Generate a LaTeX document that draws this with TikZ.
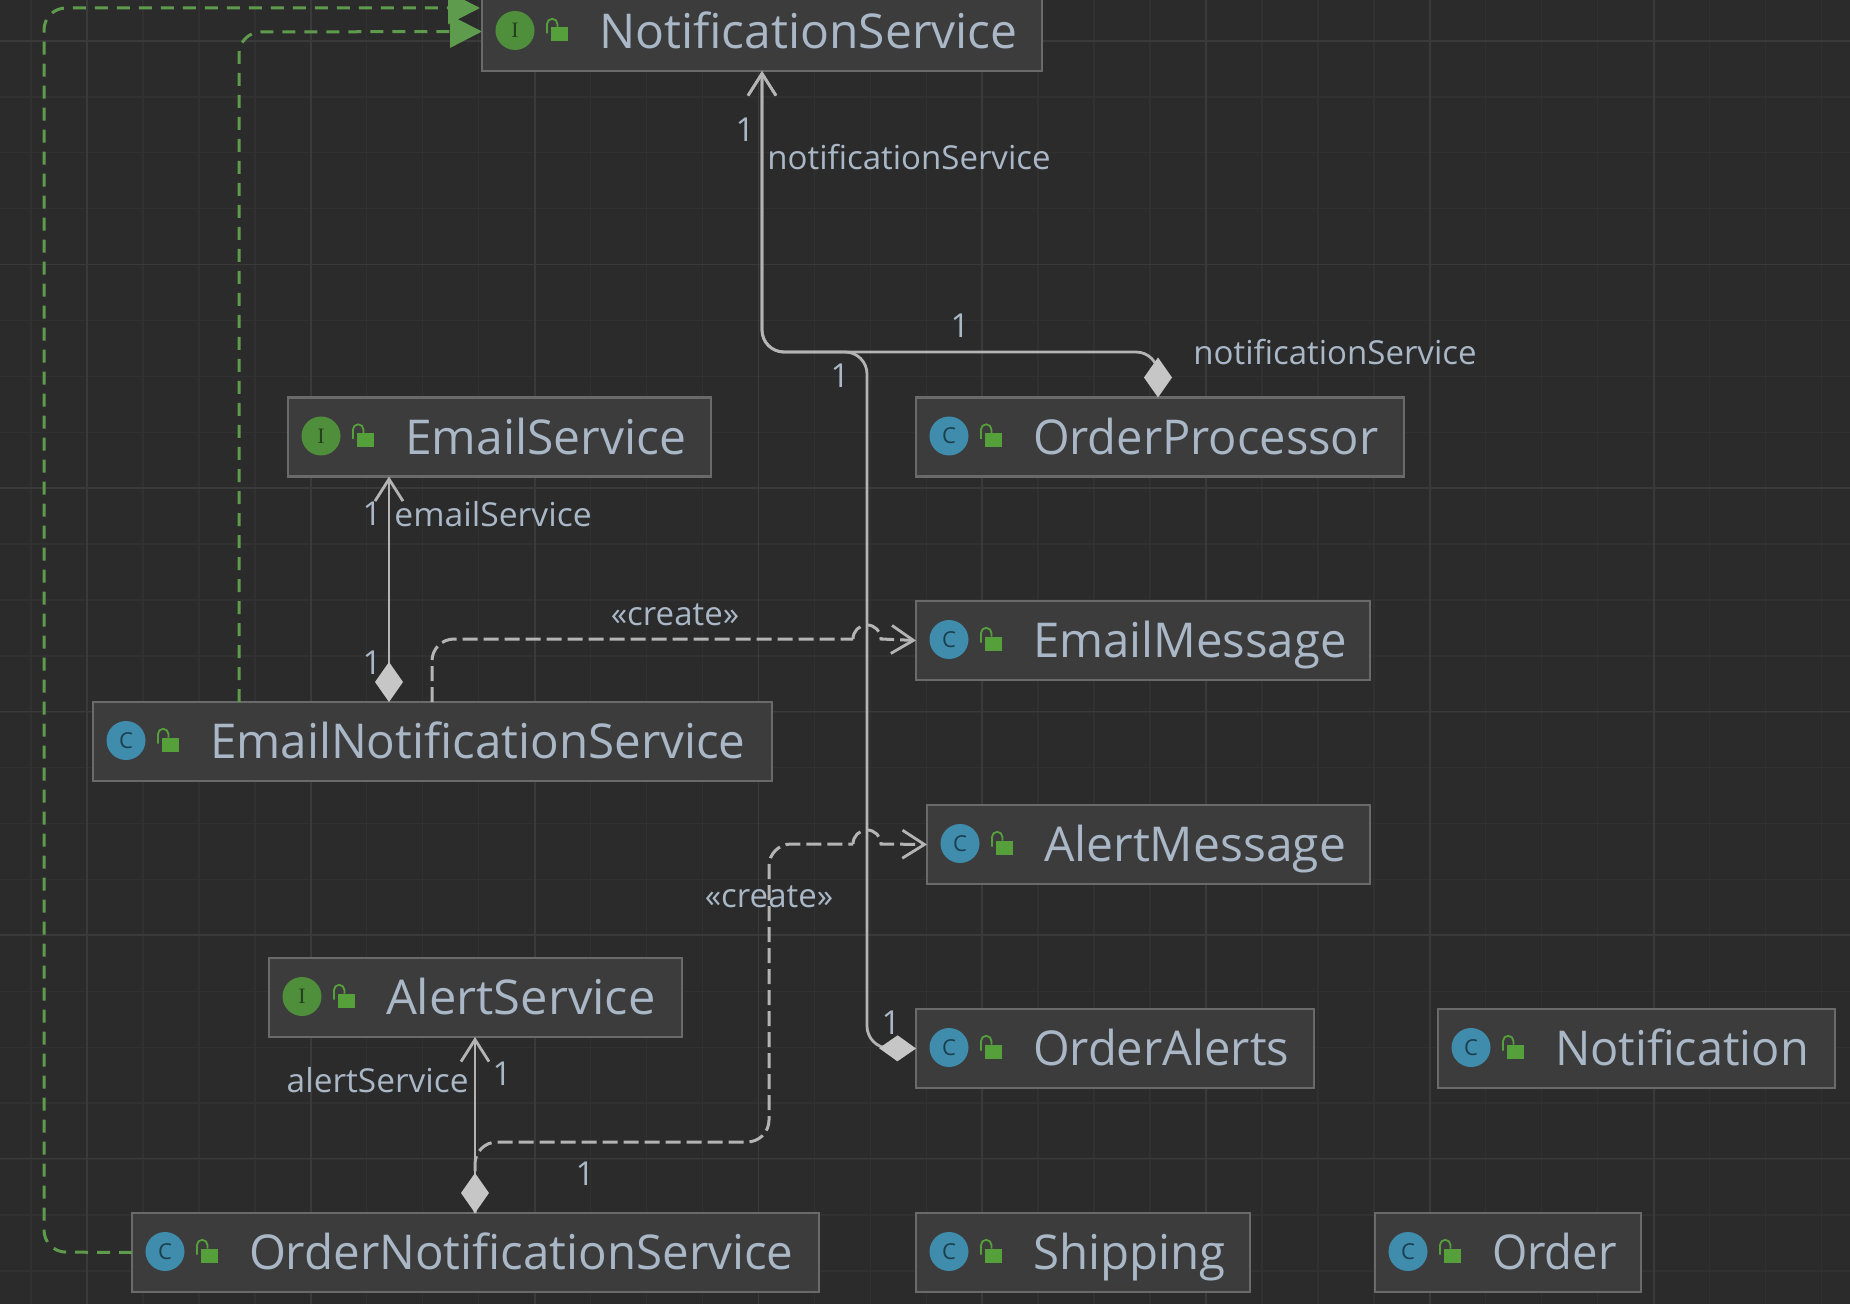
\documentclass[tikz,border=0pt]{standalone}
\usepackage{graphicx}
\usepackage{fontspec}
\setmainfont{Open Sans}
\newfontfamily\iconserif{Liberation Serif}
\usetikzlibrary{arrows.meta,calc}
\definecolor{bg}{HTML}{2B2B2B}
\definecolor{gridminor}{HTML}{313131}
\definecolor{gridmajor}{HTML}{3A3A3A}
\definecolor{boxfill}{HTML}{3C3C3C}
\definecolor{boxline}{HTML}{6A6A6A}
\definecolor{txt}{HTML}{A9B7C6}
\definecolor{conn}{HTML}{B4B4B4}
\definecolor{dia}{HTML}{C6C6C6}
\definecolor{real}{HTML}{5F9B4C}
\definecolor{iconc}{HTML}{3F8CAD}
\definecolor{iconi}{HTML}{4F8F3C}
\definecolor{lockc}{HTML}{56A03C}
\tikzset{
  umlbox/.style={draw=boxline,fill=boxfill,line width=1.3pt,anchor=north west,inner sep=0pt,outer sep=0pt,
    minimum height=39.5pt,text=txt,font=\fontsize{24}{28}\selectfont,text height=20pt,text depth=3pt},
  iconnode/.style={circle,inner sep=0pt,minimum size=19.5pt,font=\fontsize{11}{12}\selectfont},
  lbl/.style={text=txt,font=\fontsize{16.5}{19}\selectfont,inner sep=0pt},
  assoc/.style={draw=conn,line width=1.4pt,rounded corners=11pt},
  comp/.style={{Diamond[length=20pt,width=14pt,fill=dia,color=dia]}-{Straight Barb[length=11pt,width=14pt,line width=1.4pt,color=conn]}},
  compside/.style={{Diamond[length=18.5pt,width=13pt,fill=dia,color=dia]}-{Straight Barb[length=11pt,width=14pt,line width=1.4pt,color=conn]}},
  depline/.style={draw=conn,line width=1.5pt,rounded corners=11pt,dash pattern=on 7.5pt off 3pt},
  dep/.style={depline,sharp corners,-{Straight Barb[length=11pt,width=14pt,line width=1.4pt,color=conn]}},
  impl/.style={draw=real,line width=1.5pt,rounded corners=11pt,dash pattern=on 6.5pt off 4.5pt,-{Triangle[length=16pt,width=16pt,fill=real,color=real]}}
}
\newcommand{\umlnode}[8]{% name,x,y,w,letter,colour,xscale,text
  \pgfmathsetlengthmacro{\bw}{#4*0.5pt}
  \node[umlbox,minimum width=\bw] (#1) at (#2,#3) {\makebox[\bw][l]{\hspace*{58.5pt}\scalebox{#7}[1]{#8}}};
  \node[iconnode,fill=#6,text=#6!45!black] (#1-icon) at ($(#1.west)+(33,-1)$) {#5};
  \begin{scope}[shift={(#1.west)}]
    \fill[lockc] (69,-4) rectangle (86,10);
    \draw[lockc,line width=0.9pt] (65,2) -- (65,-7.5) arc[start angle=180,end angle=0,radius=2.6pt] -- (75.4,-4);
  \end{scope}
}
\begin{document}
\begin{tikzpicture}[x=0.5pt,y=-0.5pt]
\useasboundingbox (0,0) rectangle (1850,1304);
\clip (0,0) rectangle (1850,1304);
\fill[bg] (0,0) rectangle (1850,1304);
% grid
\foreach \k in {0,...,33} {
  \pgfmathsetmacro\gx{31+55.95*\k}
  \draw[gridminor,line width=0.7pt] (\gx,0) -- (\gx,1304);
}
\foreach \k in {0,...,23} {
  \pgfmathsetmacro\gy{41+55.9*\k}
  \draw[gridminor,line width=0.7pt] (0,\gy) -- (1850,\gy);
}
\foreach \k in {0,...,7} {
  \pgfmathsetmacro\gx{87+223.8*\k}
  \draw[gridmajor,line width=0.9pt] (\gx,0) -- (\gx,1304);
}
\foreach \k in {0,...,5} {
  \pgfmathsetmacro\gy{41+223.5*\k}
  \draw[gridmajor,line width=0.9pt] (0,\gy) -- (1850,\gy);
}
% nodes
\umlnode{NS}{482}{-8}{560}{\iconserif I}{iconi}{1}{NotificationService}
\umlnode{ES}{288}{397.5}{423}{\iconserif I}{iconi}{1}{EmailService}
\umlnode{OP}{916}{397.5}{488}{C}{iconc}{0.98}{OrderProcessor}
\umlnode{EM}{916}{601}{454}{C}{iconc}{0.985}{EmailMessage}
\umlnode{ENS}{93}{702}{679}{C}{iconc}{0.99}{EmailNotificationService}
\umlnode{AM}{927}{805}{443}{C}{iconc}{1}{AlertMessage}
\umlnode{AS}{269}{958}{413}{\iconserif I}{iconi}{1.018}{AlertService}
\umlnode{OA}{916}{1009}{398}{C}{iconc}{0.982}{OrderAlerts}
\umlnode{NT}{1438}{1009}{397}{C}{iconc}{0.977}{Notification}
\umlnode{ONS}{132}{1213}{687}{C}{iconc}{0.989}{OrderNotificationService}
\umlnode{SH}{916}{1213}{334}{C}{iconc}{0.988}{Shipping}
\umlnode{OR}{1375}{1213}{266}{C}{iconc}{0.945}{Order}
% bend coordinates
\coordinate (trunk) at (867,352);
\coordinate (opbend) at (1158,352);
\coordinate (oabend) at (867,1048);
\coordinate (ensimpl) at (239,32);
\coordinate (onsimplA) at (44,1252);
\coordinate (onsimplB) at (44,8);
\coordinate (onsimplC) at (480,8);
\coordinate (enscreate) at (432,639);
\coordinate (hopE) at (853,639);
\coordinate (onscreateA) at (475,1142);
\coordinate (onscreateB) at (769,1142);
\coordinate (onscreateC) at (769,844);
\coordinate (hopA) at (853,844);
\coordinate (esx) at (389,702);
\coordinate (asx) at (475,1213);
% implementation
\draw[impl] (ensimpl |- ENS.north) -- (ensimpl) -- (NS.west);
\draw[impl] (ONS.west) -- (onsimplA -| onsimplB) -- (onsimplB) -- (onsimplC);
% create dependencies
\draw[depline] (enscreate |- ENS.north) -- (enscreate) -- (hopE);
\draw[dep] (hopE) arc[start angle=180,end angle=0,radius=7pt] -- (EM.west);
\draw[depline] (asx |- ONS.north) -- (onscreateA) -- (onscreateB) -- (onscreateC) -- (hopA);
\draw[dep] (hopA) arc[start angle=180,end angle=0,radius=7pt] -- (AM.west);
% associations
\draw[assoc,comp] (opbend |- OP.north) -- (opbend) -- (opbend -| NS.south) -- (NS.south);
\draw[assoc,compside] (OA.west) -- (oabend) -- (trunk) -- (trunk -| NS.south) -- (NS.south);
\draw[assoc,comp] (esx |- ENS.north) -- (esx |- ES.south);
\draw[assoc,comp] (asx |- ONS.north) -- (asx |- AS.south);
% labels
\node[lbl] (l1) at (745,130) {1};
\node[lbl,anchor=west] (l2) at (767,157) {notificationService};
\node[lbl] (l3) at (960,326) {1};
\node[lbl,anchor=west] (l4) at (1193,352) {notificationService};
\node[lbl] (l5) at (840,376) {1};
\node[lbl] (l6) at (372,514) {1};
\node[lbl,anchor=west] (l7) at (394,514) {\scalebox{1.02}[1]{emailService}};
\node[lbl] (l8) at (372,663) {1};
\node[lbl] (l9) at (675,615) {«create»};
\node[lbl] (l10) at (769,897) {«create»};
\node[lbl] (l11) at (891,1023) {1};
\node[lbl,anchor=east] (l12) at (469,1080) {\scalebox{1.013}[1]{alertService}};
\node[lbl] (l13) at (502,1074) {1};
\node[lbl] (l14) at (585,1174) {1};
\end{tikzpicture}
\end{document}
